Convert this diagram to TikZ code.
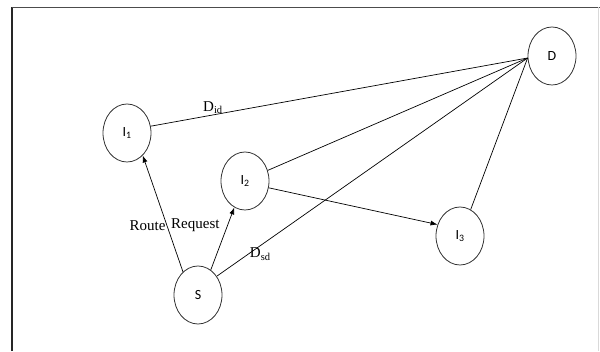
\documentclass[tikz,border=0pt]{standalone}
\usepackage{fontspec}
\setmainfont{Liberation Serif}
\newfontfamily\hostfont{Carlito}
\usepackage{tikz}
\usetikzlibrary{positioning,shapes.geometric,arrows.meta}
\tikzset{
  hop/.style={
    ellipse, draw=black!80, line width=0.8pt,
    minimum width=48pt, minimum height=58pt, inner sep=0pt,
    font=\hostfont\fontsize{14}{16}\selectfont
  },
  link/.style={line width=0.7pt},
  req/.style={line width=0.7pt, -{Latex[length=7pt,width=5pt]}},
  tag/.style={font=\fontsize{15}{17}\selectfont, inner sep=1pt}
}

\begin{document}
\begin{tikzpicture}
      \useasboundingbox (0pt,0pt) rectangle (600pt,351pt);
      \draw[line width=1.8pt, black!85] (12pt,0pt) -- (12pt,343.5pt);
      \draw[line width=1.2pt, black!70] (11.5pt,343.5pt) -- (600pt,343.5pt);
      \draw[line width=0.6pt, black!15] (598.5pt,343.5pt) -- (598.5pt,0pt);

      \node[hop] at (198pt,56pt) (S) {S};
      \node[hop, on grid, above left=162pt and 71pt of S] (I1) {I\textsubscript{1}};
      \node[hop, on grid, above right=114pt and 47pt of S] (I2) {I\textsubscript{2}};
      \node[hop, on grid, below right=55pt and 215pt of I2] (I3) {I\textsubscript{3}};
      \node[hop, on grid, above right=180pt and 92pt of I3] (D) {D};
      \coordinate (Dhub) at ([yshift=-2pt]D.west);

      \draw[link] (I1.16) -- node[tag, pos=0.165, above] (Did) {D\textsubscript{id}} (Dhub);
      \draw[link] (I2.25) -- (Dhub);
      \draw[link] (S.45) -- node[tag, pos=0.14, below=1pt] (Dsd) {D\textsubscript{sd}} (Dhub);
      \draw[link] (I3.68) -- (Dhub);

      \draw[req] (S.123) -- node[tag, pos=0.4, left] (Route) {Route}
        node[tag, pos=0.4, right=3pt] (Request) {Request} (I1.-55);
      \draw[req] (S.63) -- (I2.-112);
      \draw[req] (I2.-16) -- (I3.153);
    \end{tikzpicture}
\end{document}
